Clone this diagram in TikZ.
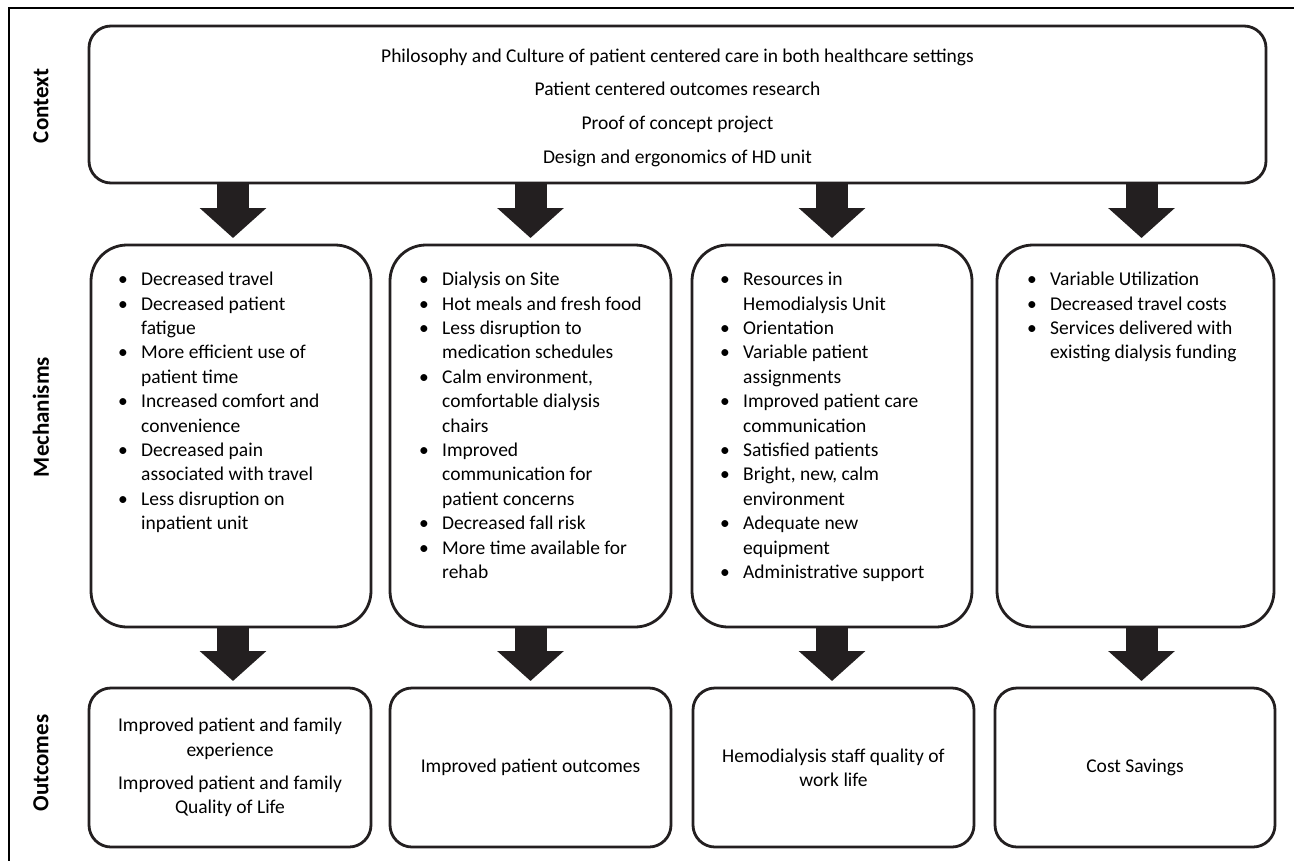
\documentclass[tikz,border=0pt]{standalone}
\usepackage{fontspec}
\setmainfont{Carlito}
\usetikzlibrary{arrows.meta,calc}
\definecolor{ink}{HTML}{231F20}
\newcommand\bl{\makebox[23pt][l]{\textbullet}}
\newcommand\ind{\hspace*{23pt}}
\begin{document}
\begin{tikzpicture}[x=1pt,y=-1pt,
  ctxbox/.style={draw=ink, line width=2.8pt, rounded corners=22pt, inner sep=0pt, outer sep=0pt},
  ctxtext/.style={inner sep=0pt, align=center, font=\fontsize{19.5}{33.7}\selectfont},
  mechbox/.style={draw=ink, line width=2.8pt, rounded corners=36pt, inner sep=0pt, outer sep=0pt, minimum height=382pt},
  outbox/.style={draw=ink, line width=2.8pt, rounded corners=22pt, inner sep=0pt, outer sep=0pt, minimum height=159pt, align=center, font=\fontsize{19.5}{24.4}\selectfont},
  mlist/.style={anchor=north west, inner sep=0pt, align=left, font=\fontsize{19.5}{24.4}\selectfont},
  rowlabel/.style={rotate=90, inner sep=0pt, font=\fontsize{23}{27}\selectfont\bfseries},
  blockarrow/.style={draw=ink, line width=32pt, -{Triangle[length=30pt,width=65pt]}, shorten >=7pt},
  frame/.style={draw=black, line width=2.8pt}
]
\useasboundingbox (0,0) rectangle (1294,860);
\fill[white] (0,0) rectangle (1294,860);
\draw[frame] (9,862) -- (9,8) -- (1296,8);

% row labels
\node[rowlabel] (lctx) at (41,106) {Context};
\node[rowlabel] (lmech) at (41,417) {Mechanisms};
\node[rowlabel] (lout) at (41,763) {Outcomes};

% context
\node[ctxbox, minimum width=1177pt, minimum height=157pt] (ctx) at (677.5,104.5) {};
\node[ctxtext] (ctxt) at ($(ctx.center)+(0,3)$)
  {Philosophy and Culture of patient centered care in both healthcare settings\\
   Patient centered outcomes research\\
   Proof of concept project\\
   Design and ergonomics of HD unit};

% mechanisms
\node[mechbox, minimum width=280pt] (m1) at (231,436) {};
\node[mechbox, minimum width=281pt] (m2) at (530.5,436) {};
\node[mechbox, minimum width=280pt] (m3) at (832,436) {};
\node[mechbox, minimum width=277pt] (m4) at (1135.5,436) {};

\node[mlist] (t1) at ($(m1.north west)+(27,27)$) {%
\bl Decreased travel\\
\bl Decreased patient\\
\ind fatigue\\
\bl More efficient use of\\
\ind patient time\\
\bl Increased comfort and\\
\ind convenience\\
\bl Decreased pain\\
\ind associated with travel\\
\bl Less disruption on\\
\ind inpatient unit};

\node[mlist] (t2) at ($(m2.north west)+(29,27)$) {%
\bl Dialysis on Site\\
\bl Hot meals and fresh food\\
\bl Less disruption to\\
\ind medication schedules\\
\bl Calm environment,\\
\ind comfortable dialysis\\
\ind chairs\\
\bl Improved\\
\ind communication for\\
\ind patient concerns\\
\bl Decreased fall risk\\
\bl More time available for\\
\ind rehab};

\node[mlist] (t3) at ($(m3.north west)+(28,27)$) {%
\bl Resources in\\
\ind Hemodialysis Unit\\
\bl Orientation\\
\bl Variable patient\\
\ind assignments\\
\bl Improved patient care\\
\ind communication\\
\bl Satisfied patients\\
\bl Bright, new, calm\\
\ind environment\\
\bl Adequate new\\
\ind equipment\\
\bl Administrative support};

\node[mlist] (t4) at ($(m4.north west)+(30,27)$) {%
\bl Variable Utilization\\
\bl Decreased travel costs\\
\bl Services delivered with\\
\ind existing dialysis funding};

% outcomes
\node[outbox, minimum width=282pt] (o1) at (230,767.5)
  {Improved patient and family\\ experience\\[9pt]
   Improved patient and family\\ Quality of Life};
\node[outbox, minimum width=281pt] (o2) at (530.5,767.5) {Improved patient outcomes};
\node[outbox, minimum width=281pt] (o3) at (833.5,767.5) {Hemodialysis staff quality of\\ work life};
\node[outbox, minimum width=280pt] (o4) at (1135,767.5) {Cost Savings};

% arrows context -> mechanisms
\draw[blockarrow] ($(ctx.south -| m1.north)+(2,0)$) -- ($(m1.north)+(2,0)$);
\draw[blockarrow] (ctx.south -| m2.north) -- (m2.north);
\draw[blockarrow] (ctx.south -| m3.north) -- (m3.north);
\draw[blockarrow] ($(ctx.south -| m4.north)+(6,0)$) -- ($(m4.north)+(6,0)$);

% arrows mechanisms -> outcomes
\draw[blockarrow] ($(m1.south)+(2,0)$) -- ($(o1.north -| m1.south)+(2,0)$);
\draw[blockarrow] (m2.south) -- (o2.north -| m2.south);
\draw[blockarrow] (m3.south) -- (o3.north -| m3.south);
\draw[blockarrow] ($(m4.south)+(6,0)$) -- ($(o4.north -| m4.south)+(6,0)$);
\end{tikzpicture}
\end{document}
